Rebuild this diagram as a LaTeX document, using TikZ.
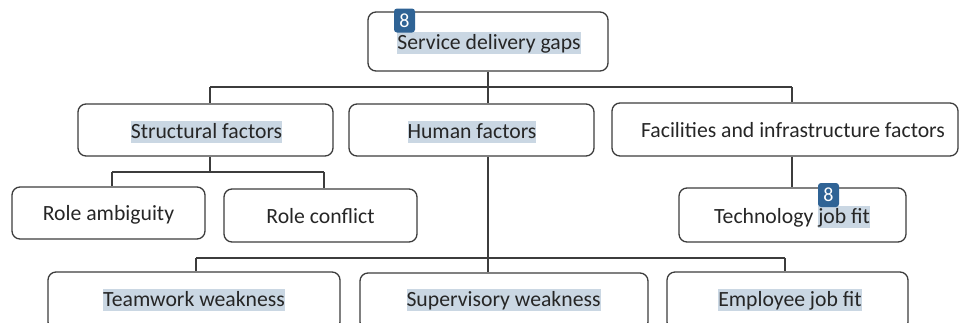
\documentclass[tikz,border=0pt]{standalone}
\usepackage{fontspec}
\setmainfont{Carlito}
\definecolor{hlc}{HTML}{CAD7E3}
\definecolor{edge}{HTML}{3C3C3C}
\definecolor{badge}{HTML}{2F6395}
\definecolor{ink}{HTML}{262626}
\newcommand\hlx[1]{{\setlength{\fboxsep}{0pt}\colorbox{hlc}{\rule[-4.5pt]{0pt}{22pt}#1}}}
\newcommand\stx{\rule[-4.5pt]{0pt}{22pt}}
\begin{document}
\begin{tikzpicture}[x=1pt,y=-1pt,
 box/.style={draw=edge,line width=1.3pt,rounded corners=8pt,inner sep=0pt},
 txt/.style={inner sep=0pt,text=ink,font=\fontsize{21.7}{26}\selectfont},
 wire/.style={draw=edge,line width=1.3pt},
 badgebox/.style={fill=badge,rounded corners=3pt,minimum width=21pt,minimum height=24pt,inner sep=0pt,text=white,font=\fontsize{20}{22}\selectfont}]
\useasboundingbox (0,0) rectangle (960,322);
\clip (0,0) rectangle (960,322);
% boxes
\node[box,minimum width=240pt,minimum height=59pt] (top) at (488,41.5) {};
\node[box,minimum width=255pt,minimum height=52pt] (struct) at (205.5,130) {};
\node[box,minimum width=245pt,minimum height=52pt] (human) at (471.5,130) {};
\node[box,minimum width=346pt,minimum height=53pt] (fac) at (785,129.5) {};
\node[box,minimum width=193pt,minimum height=52pt] (ramb) at (108.5,213) {};
\node[box,minimum width=193pt,minimum height=53pt] (rcon) at (320.5,215.5) {};
\node[box,minimum width=227pt,minimum height=54pt] (tech) at (792.5,215) {};
\node[box,minimum width=292pt,minimum height=58pt] (team) at (194,301) {};
\node[box,minimum width=288pt,minimum height=57pt] (sup) at (504,301.5) {};
\node[box,minimum width=241pt,minimum height=58pt] (emp) at (787.5,301) {};
% texts
\node[txt] (topt) at (489,42.5) {\hlx{Service delivery gaps}};
\node[txt] (structt) at (206.5,132) {\hlx{Structural factors}};
\node[txt] (humant) at (472,132) {\hlx{Human factors}};
\node[txt] (fact) at (793,131) {\stx Facilities and infrastructure factors};
\node[txt] (rambt) at (108.5,214) {\stx Role ambiguity};
\node[txt] (rcont) at (320.5,217) {\stx Role conflict};
\node[txt] (techt) at (792,217) {\stx Technology \hlx{job fit}};
\node[txt] (teamt) at (194,300) {\hlx{Teamwork weakness}};
\node[txt] (supt) at (503.5,300) {\hlx{Supervisory weakness}};
\node[txt] (empt) at (790,300) {\hlx{Employee job fit}};
% connectors
\coordinate (sL) at (210,87);
\coordinate (fR) at (792,87);
\draw[wire] (sL) -- (fR);
\draw[wire] (top.south) -- (human.north -| top.south);
\draw[wire] (sL) -- (struct.north -| sL);
\draw[wire] (fR) -- (fac.north -| fR);
\coordinate (s2) at (210,172);
\coordinate (s2L) at (112,172);
\coordinate (s2R) at (324,172);
\draw[wire] (struct.south -| s2) -- (s2);
\draw[wire] (s2L) -- (s2R);
\draw[wire] (s2L) -- (ramb.north -| s2L);
\draw[wire] (s2R) -- (rcon.north -| s2R);
\draw[wire] (fac.south -| fR) -- (tech.north -| fR);
\coordinate (h2) at (488,258);
\coordinate (b2L) at (196,258);
\coordinate (b2R) at (785,258);
\draw[wire] (human.south -| h2) -- (sup.north -| h2);
\draw[wire] (b2L) -- (b2R);
\draw[wire] (b2L) -- (team.north -| b2L);
\draw[wire] (b2R) -- (emp.north -| b2R);
% badges
\node[badgebox] (bdg1) at (404.5,20.5) {8};
\node[badgebox] (bdg2) at (828.5,195) {8};
\end{tikzpicture}
\end{document}
